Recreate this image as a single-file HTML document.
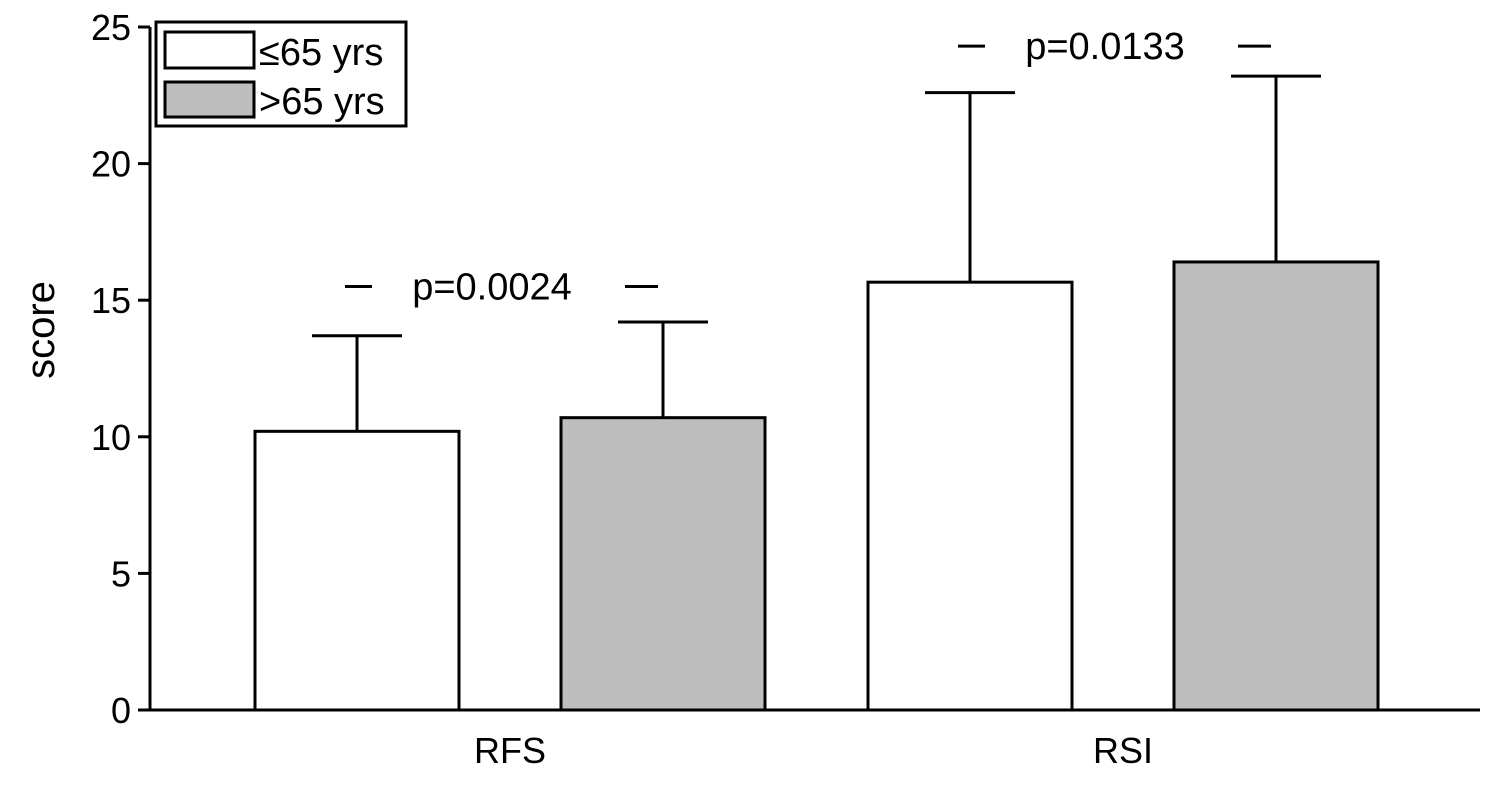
<!DOCTYPE html>
<html><head><meta charset="utf-8"><style>
body{margin:0;background:#fff}
svg text{font-family:"Liberation Sans",sans-serif;fill:#000}
</style></head><body>
<svg width="1500" height="782" id="chart">
</svg>
<script>
const categories=["RFS","RSI"];
const youngMeans=[10.2,15.66];
const youngErr=[13.7,22.6];
const oldMeans=[10.7,16.4];
const oldErr=[14.2,23.2];
const yTicks=[0,5,10,15,20,25];
const pLabels=["p=0.0024","p=0.0133"];
const pLevels=[15.5,24.3];
const svg=document.getElementById('chart');
const NS="http://www.w3.org/2000/svg";
const y0=710,y1=27,x0=150,x1=1480;
const ys=v=>y0-(v/25)*(y0-y1);
const groupCenters=[510,1123];
function mk(t,a,txt){const e=document.createElementNS(NS,t);for(const k in a)e.setAttribute(k,a[k]);if(txt!==undefined)e.textContent=txt;svg.appendChild(e);return e;}
let e;
e=mk('line',{x1:x0,y1:y0,x2:x1,y2:y0,stroke:'#000','stroke-width':3});


e=mk('line',{x1:x0,y1:y1,x2:x0,y2:y0,stroke:'#000','stroke-width':3});


yTicks.forEach(t=>{
 e=mk('line',{x1:x0-12,y1:ys(t),x2:x0,y2:ys(t),stroke:'#000','stroke-width':3});
 
 
 e=mk('text',{x:x0-19,y:ys(t)+13,'text-anchor':'end','font-size':36},t);
 
 
});
e=mk('text',{x:54,y:330,'text-anchor':'middle','font-size':40,transform:'rotate(-90 54 330)'},'score');


const bw=204,off=153,cap=45;
categories.forEach((c,i)=>{
 const cx=groupCenters[i];
 [[youngMeans,youngErr,'#fff',-off,'young'],[oldMeans,oldErr,'#bebebe',off,'old']].forEach(s=>{
  const bx=cx+s[3];
  e=mk('line',{x1:bx,y1:ys(s[1][i]),x2:bx,y2:ys(s[0][i]),stroke:'#000','stroke-width':3});
  
  
  e=mk('line',{x1:bx-cap,y1:ys(s[1][i]),x2:bx+cap,y2:ys(s[1][i]),stroke:'#000','stroke-width':3});
  
  
  e=mk('rect',{x:bx-bw/2,y:ys(s[0][i]),width:bw,height:y0-ys(s[0][i]),fill:s[2],stroke:'#000','stroke-width':3});
  
  
 });
 e=mk('text',{x:cx,y:763,'text-anchor':'middle','font-size':36},c);
 
 
 const py=ys(pLevels[i]);
 e=mk('line',{x1:cx-165,y1:py,x2:cx-138,y2:py,stroke:'#000','stroke-width':3});
 
 
 e=mk('line',{x1:cx+115,y1:py,x2:cx+148,y2:py,stroke:'#000','stroke-width':3});
 
 
 e=mk('text',{x:cx-18,y:py+13,'text-anchor':'middle','font-size':38},pLabels[i]);
 
 
});
e=mk('rect',{x:156,y:22,width:250,height:104,fill:'#fff',stroke:'#000','stroke-width':3});


e=mk('rect',{x:165,y:32,width:89,height:36,fill:'#fff',stroke:'#000','stroke-width':3});


e=mk('rect',{x:165,y:82,width:89,height:35,fill:'#bebebe',stroke:'#000','stroke-width':3});


e=mk('text',{x:259,y:65,'font-size':38},'≤65 yrs');


e=mk('text',{x:259,y:114,'font-size':38},'>65 yrs');


</script>
</body></html>
